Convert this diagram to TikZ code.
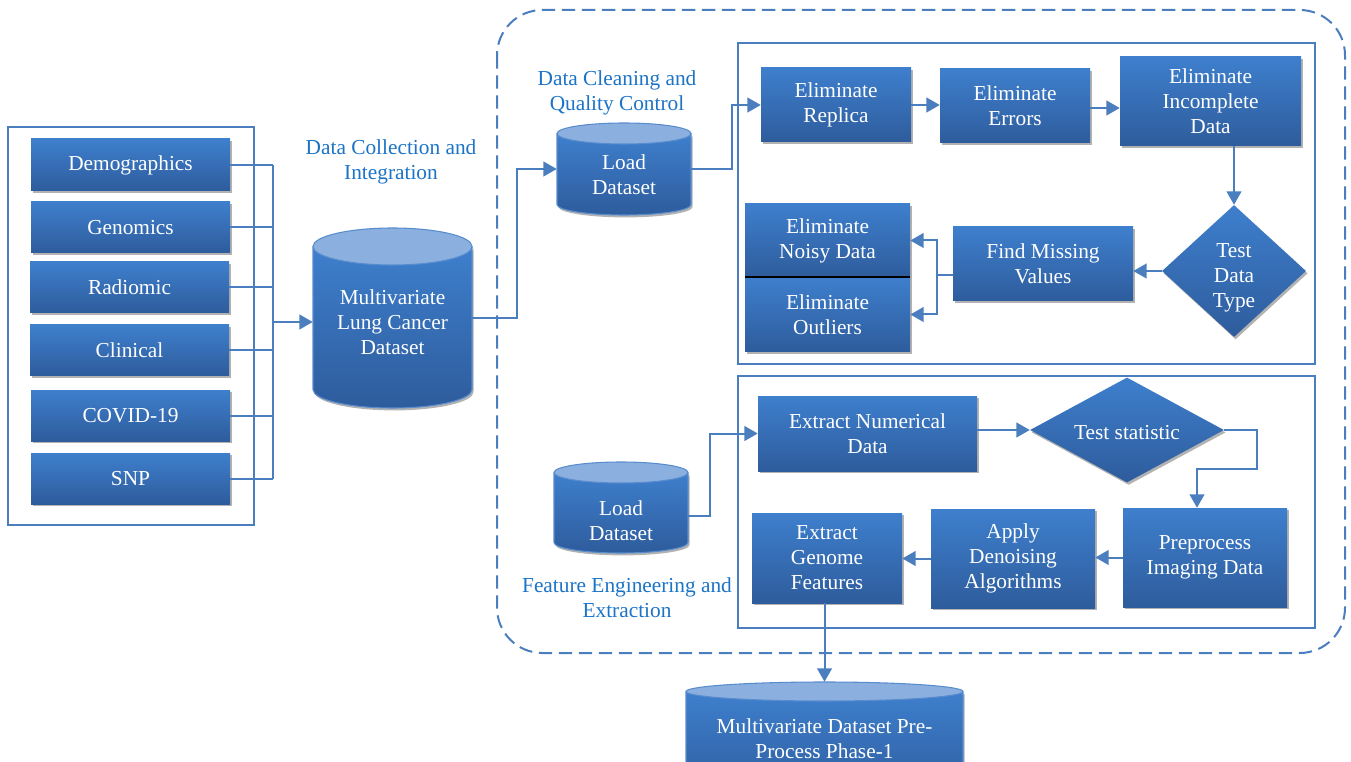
\documentclass[tikz,border=0pt]{standalone}
\usepackage{fontspec}
\setmainfont{Liberation Serif}
\usetikzlibrary{shapes.geometric,arrows.meta,fit,shadows}
\definecolor{bxtop}{RGB}{62,127,205}
\definecolor{bxbot}{RGB}{46,92,156}
\definecolor{cyltop}{RGB}{139,176,223}
\definecolor{cyledge}{RGB}{88,140,205}
\definecolor{lnblue}{RGB}{74,126,190}
\definecolor{lblue}{RGB}{28,116,198}
\tikzset{
  every node/.style={font=\fontsize{16}{18.8}\selectfont},
  myshadow/.style={drop shadow={shadow xshift=1.2pt, shadow yshift=-1.8pt, opacity=.3, fill=black}},
  box/.style={rectangle, inner sep=0pt, top color=bxtop, bottom color=bxbot, text=white, align=center, myshadow},
  dia/.style={diamond, inner sep=0pt, top color=bxtop, bottom color=bxbot, myshadow},
  wtext/.style={text=white, align=center, inner sep=0pt},
  lbl/.style={text=lblue, align=center, inner sep=0pt},
  framebox/.style={draw=lnblue, line width=1.5pt},
  conn/.style={draw=lnblue, line width=1.5pt},
  arr/.style={conn, -{Triangle[length=10pt,width=11pt]}},
}
% box: name, x1, y1, x2, y2, text (pixel units)
\newcommand\bx[6]{%
  \pgfmathsetmacro\bxw{(#4-#2)*0.75}%
  \pgfmathsetmacro\bxh{(#5-#3)*0.75}%
  \node[box, minimum width=\bxw pt, minimum height=\bxh pt] (#1) at ({(#2+#4)/2},{(#3+#5)/2}) {#6};
}
\newcommand\dbcyl[8]{%
  \pgfmathsetmacro\cylrx{(#3-#2)/2}%
  \pgfmathsetmacro\cylcx{(#3+#2)/2}%
  \shade[top color=bxtop, bottom color=bxbot, myshadow] (#2,#4+#6) -- (#2,#5-#6)
     arc[start angle=180,end angle=0,x radius=\cylrx,y radius=#6] -- (#3,#4+#6)
     arc[start angle=0,end angle=180,x radius=\cylrx,y radius=#6] -- cycle;
  \draw[cyledge, line width=.8pt] (#2,#4+#6) -- (#2,#5-#6)
     arc[start angle=180,end angle=0,x radius=\cylrx,y radius=#6] -- (#3,#4+#6);
  \filldraw[fill=cyltop, draw=cyledge, line width=.8pt] (\cylcx,#4+#6) ellipse[x radius=\cylrx, y radius=#6];
  \node[fit={(#2,#4) (#3,#5)}, inner sep=0pt] (#1) {};
  \node[wtext] (#1-t) at (\cylcx,#7) {#8};
}
\begin{document}
\begin{tikzpicture}[x=0.75pt, y=-0.75pt]
\useasboundingbox (0,0) rectangle (1351,762);
\clip (0,0) rectangle (1351,762);
\fill[white] (0,0) rectangle (1351,762);

% dashed outer region
\draw[conn, dash pattern=on 10pt off 5pt, rounded corners=34pt] (497,10) rectangle (1345,653);

% left frame and sources
\draw[framebox] (8,127) rectangle (254,525);
\bx{demo}{31}{139}{230}{191}{Demographics}
\bx{geno}{31}{202}{230}{253}{Genomics}
\bx{radio}{30}{262}{229}{313}{Radiomic}
\bx{clin}{30}{325}{229}{376}{Clinical}
\bx{covid}{31}{390}{230}{441}{COVID-19}
\bx{snp}{31}{453}{230}{504}{SNP}

\node[lbl] (lab1) at (391,162) {Data Collection and\\Integration};
\dbcyl{mlc}{313}{472}{228}{408}{18.5}{322}{Multivariate\\Lung Cancer\\Dataset}

\coordinate (bus) at (273,322);
\foreach \n in {demo,geno,radio,clin,covid,snp}
  \draw[conn] (\n.east) -- (\n.east -| bus);
\draw[conn] (bus |- demo.east) -- (bus |- snp.east);
\draw[arr] (bus) -- (mlc.west |- bus);

% data cleaning
\node[lbl] (lab2) at (617,93) {Data Cleaning and\\Quality Control};
\dbcyl{load1}{557}{691}{123}{215}{10.5}{175}{Load\\Dataset}
\draw[arr] (mlc.east) -- ++(45,0) |- (load1.west);

\draw[framebox] (738,43) rectangle (1315,364);
\bx{rep}{761}{68}{911}{142}{Eliminate\\Replica}
\bx{err}{940}{69}{1090}{143}{Eliminate\\Errors}
\bx{inc}{1120}{57}{1301}{146}{Eliminate\\Incomplete\\Data}
\node[dia, minimum width=108pt, minimum height=99pt] (tdt) at (1234,271) {};
\node[wtext] (tdt-t) at (1234,278) {Test\\Data\\Type};
\bx{fmv}{953}{227}{1133}{301}{Find Missing\\Values}
\bx{noisy}{745}{204}{910}{277}{Eliminate\\Noisy Data}
\bx{outl}{745}{277}{910}{352}{Eliminate\\Outliers}
\draw[black, line width=1.6pt] (noisy.south west) -- (noisy.south east);

\draw[arr] (load1.east) -- ++(41,0) |- (rep.west);
\draw[arr] (rep.east) -- (rep.east -| err.west);
\draw[arr] (err.east |- 0,108) -- (inc.west |- 0,108);
\draw[arr] (tdt.north |- inc.south) -- (tdt.north);
\draw[arr] (tdt.west) -- (tdt.west -| fmv.east);
\coordinate (fork) at (937,275);
\draw[conn] (fmv.west |- fork) -- (fork);
\draw[arr] (fork) |- (noisy.east);
\draw[arr] (fork) |- (outl.east);

% feature engineering
\draw[framebox] (738,376) rectangle (1315,628);
\dbcyl{load2}{554}{688}{462}{553}{10.5}{521}{Load\\Dataset}
\node[lbl] (lab3) at (627,598) {Feature Engineering and\\Extraction};
\bx{extnum}{758}{396}{977}{471}{Extract Numerical\\Data}
\node[dia, minimum width=145.5pt, minimum height=78.75pt] (ts) at (1127,430) {};
\node[wtext] (ts-t) at (1127,433) {Test statistic};
\bx{prep}{1123}{508}{1287}{607}{Preprocess\\Imaging Data}
\bx{apply}{931}{509}{1095}{608}{Apply\\Denoising\\Algorithms}
\bx{genome}{752}{513}{902}{603}{Extract\\Genome\\Features}

\draw[arr] ([yshift=-6pt]load2.east) -- ++(22,0) |- (extnum.west);
\draw[arr] (ts.west -| extnum.east) -- (ts.west);
\draw[arr] (ts.east) -- ++(33,0) -- ++(0,39) -| ([xshift=-6pt]prep.north);
\draw[arr] (prep.west) -- (prep.west -| apply.east);
\draw[arr] (apply.west) -- (apply.west -| genome.east);

% final
\dbcyl{final}{686}{963}{682}{800}{9.5}{739}{Multivariate Dataset Pre-\\Process Phase-1}
\draw[arr] (final.north |- genome.south) -- (final.north);
\end{tikzpicture}
\end{document}
